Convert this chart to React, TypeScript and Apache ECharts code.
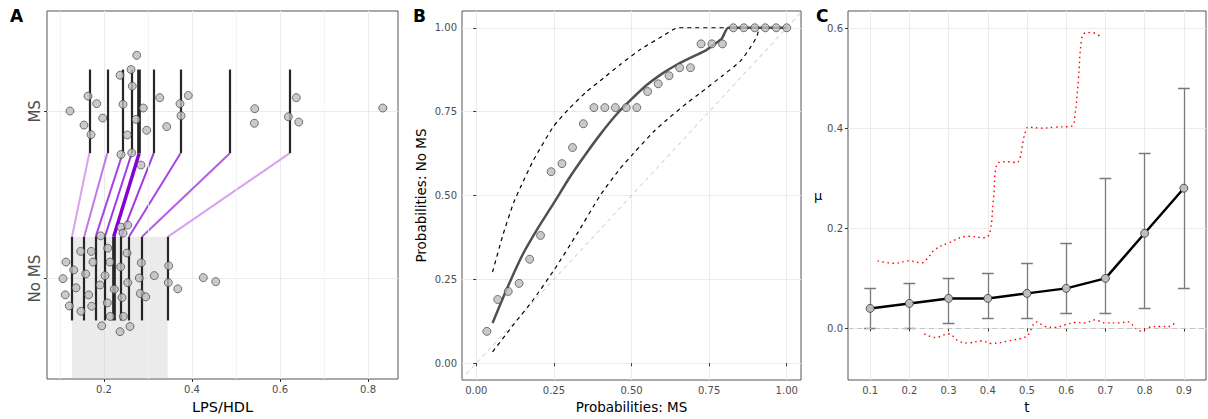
import React, { useEffect, useRef } from 'react';
import * as echarts from 'echarts';

// ---------- Panel A data ----------
const groups = ['No MS', 'MS'];
const msValues = [0.1227, 0.1636, 0.1834, 0.1545, 0.1705, 0.197, 0.2364, 0.2432, 0.253, 0.2386, 0.2614, 0.2643, 0.2743, 0.2893, 0.2727, 0.263, 0.297, 0.284, 0.3266, 0.3425, 0.3727, 0.375, 0.3916, 0.5425, 0.5416, 0.6189, 0.637, 0.6425, 0.8334];
const msJitter = [2.002, 2.091, 2.046, 1.918, 1.861, 1.96, 2.216, 2.042, 1.859, 1.742, 2.25, 2.151, 2.335, 2.02, 1.952, 1.752, 1.887, 1.679, 2.082, 1.909, 2.046, 1.974, 2.095, 2.016, 1.929, 1.968, 2.082, 1.936, 2.02];
const noMsValues = [0.1068, 0.1136, 0.1311, 0.112, 0.1211, 0.1364, 0.147, 0.1477, 0.1584, 0.1652, 0.1711, 0.175, 0.172, 0.1909, 0.1925, 0.1948, 0.2023, 0.2075, 0.2084, 0.2136, 0.2143, 0.2234, 0.2379, 0.2364, 0.2409, 0.2439, 0.2386, 0.2539, 0.2432, 0.2523, 0.2539, 0.2591, 0.2802, 0.2848, 0.2825, 0.2948, 0.3143, 0.347, 0.3461, 0.3675, 0.4257, 0.4539];
const noMsJitter = [1.0, 1.099, 1.052, 0.903, 0.837, 0.945, 1.163, 0.805, 1.028, 0.903, 1.163, 1.099, 0.835, 0.962, 1.256, 0.718, 1.018, 0.855, 1.182, 1.099, 0.774, 0.937, 1.07, 0.683, 0.887, 0.774, 1.308, 1.32, 1.272, 1.153, 0.976, 0.714, 1.004, 1.095, 0.911, 0.891, 1.018, 1.077, 0.976, 0.939, 1.006, 0.982];
const msDeciles = [0.1666, 0.2075, 0.2425, 0.263, 0.28, 0.313, 0.374, 0.486, 0.622];
const noMsDeciles = [0.1273, 0.155, 0.181, 0.202, 0.222, 0.2386, 0.2568, 0.2864, 0.3448];

// ---------- Panel B data ----------
const rocX = [0.034, 0.069, 0.103, 0.138, 0.172, 0.207, 0.241, 0.276, 0.31, 0.345, 0.379, 0.414, 0.448, 0.483, 0.517, 0.552, 0.586, 0.621, 0.655, 0.69, 0.724, 0.759, 0.793, 0.828, 0.862, 0.897, 0.931, 0.966, 1.0];
const rocY = [0.095, 0.19, 0.214, 0.238, 0.31, 0.381, 0.571, 0.595, 0.643, 0.714, 0.762, 0.762, 0.762, 0.762, 0.762, 0.81, 0.833, 0.857, 0.881, 0.881, 0.952, 0.952, 0.952, 1, 1, 1, 1, 1, 1];
const smoothX = [0.0525, 0.1, 0.15, 0.2, 0.25, 0.3, 0.35, 0.4, 0.45, 0.5, 0.55, 0.6, 0.65, 0.7, 0.737, 0.765, 0.791, 0.812, 1.0];
const smoothY = [0.12, 0.225, 0.325, 0.405, 0.478, 0.553, 0.62, 0.683, 0.74, 0.787, 0.83, 0.864, 0.892, 0.915, 0.931, 0.95, 0.968, 1.0, 1.0];
const upperX = [0.0525, 0.085, 0.12, 0.1416, 0.184, 0.249, 0.3, 0.356, 0.41, 0.463, 0.528, 0.6, 0.635, 0.65, 0.83];
const upperY = [0.272, 0.38, 0.478, 0.523, 0.605, 0.706, 0.76, 0.81, 0.85, 0.89, 0.935, 0.975, 0.995, 1.0, 1.0];
const lowerX = [0.0525, 0.12, 0.184, 0.252, 0.324, 0.399, 0.463, 0.506, 0.571, 0.614, 0.678, 0.721, 0.79, 0.85, 0.882, 0.903, 0.912];
const lowerY = [0.034, 0.115, 0.19, 0.28, 0.385, 0.5, 0.58, 0.625, 0.69, 0.726, 0.775, 0.805, 0.855, 0.9, 0.94, 0.973, 1.0];

// ---------- Panel C data ----------
const tValues = [0.1, 0.2, 0.3, 0.4, 0.5, 0.6, 0.7, 0.8, 0.9];
const muValues = [0.04, 0.05, 0.06, 0.06, 0.07, 0.08, 0.1, 0.19, 0.28];
const muLower = [0, 0, 0.01, 0.02, 0.02, 0.03, 0.03, 0.04, 0.08];
const muUpper = [0.08, 0.09, 0.1, 0.11, 0.13, 0.17, 0.3, 0.35, 0.48];
const bandUpperT = [0.119, 0.164, 0.198, 0.231, 0.244, 0.266, 0.3, 0.35, 0.393, 0.406, 0.414, 0.427, 0.452, 0.473, 0.495, 0.503, 0.537, 0.571, 0.614, 0.622, 0.631, 0.639, 0.648, 0.665, 0.689];
const bandUpperV = [0.135, 0.13, 0.135, 0.131, 0.138, 0.158, 0.171, 0.184, 0.181, 0.194, 0.255, 0.331, 0.333, 0.331, 0.39, 0.402, 0.4, 0.402, 0.404, 0.424, 0.497, 0.576, 0.59, 0.591, 0.582];
const bandLowerT = [0.238, 0.266, 0.3, 0.325, 0.35, 0.384, 0.41, 0.452, 0.499, 0.508, 0.524, 0.546, 0.571, 0.597, 0.622, 0.648, 0.673, 0.699, 0.733, 0.758, 0.775, 0.788, 0.809, 0.843, 0.864, 0.877];
const bandLowerV = [-0.011, -0.018, -0.011, -0.025, -0.029, -0.025, -0.03, -0.025, -0.016, -0.005, 0.013, 0.004, 0.002, 0.007, 0.012, 0.011, 0.017, 0.011, 0.011, 0.013, 0.002, -0.005, 0.002, 0.004, 0.004, 0.011];

// ---------- styles ----------
const FONT = 'DejaVu Sans';
const decileColors = ['#d9a2f1', '#c078ea', '#a844e2', '#a03ae0', '#8800d6', '#a03ae0', '#a844e2', '#b45de5', '#d9a2f1'];
const decileWidths = [2, 2, 2, 2, 3.5, 2, 2, 2, 2];
const pointStyle = { color: '#bdbdbd', borderColor: '#333', borderWidth: 0.8 };

const zip = (a: number[], b: number[]) => a.map((v, i) => [v, b[i]]);

const tickLabel = { fontFamily: FONT, fontSize: 10, color: '#4d4d4d', margin: 5 };
const nameStyle = { fontFamily: FONT, fontSize: 13.5, color: '#000' };
const splitLine = { show: true, lineStyle: { color: '#ebebeb', width: 1 } };
const axisTick = (vals: number[]) => ({ show: true, length: 3, lineStyle: { color: '#333' }, customValues: vals });

export default function App() {
  const ref = useRef<HTMLDivElement>(null);
  useEffect(() => {
    if (!ref.current) return;
    const chart = echarts.init(ref.current, null, { renderer: 'svg' });

    const xA = [0.2, 0.4, 0.6, 0.8];
    const xB = [0, 0.25, 0.5, 0.75, 1];
    const xC = tValues;
    const yC = [0, 0.2, 0.4, 0.6];

    const decileWidthsAll = decileWidths.concat(decileWidths);
    const decileSegs: any[] = [];
    msDeciles.forEach((d) => decileSegs.push({ coords: [[d, 1.75], [d, 2.25]] }));
    noMsDeciles.forEach((d) => decileSegs.push({ coords: [[d, 0.75], [d, 1.25]] }));
    decileSegs.forEach((s, i) => (s.lineStyle = { color: '#262626', width: decileWidthsAll[i] + 0.2, opacity: 1 }));

    const purple = msDeciles.map((d, i) => ({
      coords: [[d, 1.75], [noMsDeciles[i], 1.25]],
      lineStyle: { color: decileColors[i], width: decileWidths[i], opacity: 1 },
    }));

    const errSegs: any[] = [];
    tValues.forEach((t, i) => {
      errSegs.push({ coords: [[t, muLower[i]], [t, muUpper[i]]] });
      errSegs.push({ coords: [[t - 0.015, muLower[i]], [t + 0.015, muLower[i]]] });
      errSegs.push({ coords: [[t - 0.015, muUpper[i]], [t + 0.015, muUpper[i]]] });
    });

    const gridBase = { top: 11, height: 370, show: true, borderColor: '#555', borderWidth: 1, backgroundColor: '#fff' };

    const option: any = {
      animation: false,
      textStyle: { fontFamily: FONT },
      grid: [
        { ...gridBase, left: 47, width: 351 },
        { ...gridBase, left: 462, width: 339 },
        { ...gridBase, left: 848, width: 358 },
      ],
      xAxis: [
        {
          gridIndex: 0, type: 'value', min: 0.0705, max: 0.868,
          axisLine: { show: false }, axisTick: axisTick(xA), splitLine,
          axisLabel: { ...tickLabel, customValues: xA, formatter: (v: number) => v.toFixed(1) },
          name: 'LPS/HDL', nameLocation: 'middle', nameGap: 20, nameTextStyle: { ...nameStyle, fontSize: 14.5 },
        },
        {
          gridIndex: 1, type: 'value', min: -0.046, max: 1.046,
          axisLine: { show: false }, axisTick: axisTick(xB), splitLine,
          axisLabel: { ...tickLabel, customValues: xB, formatter: (v: number) => v.toFixed(2) },
          name: 'Probabilities: MS', nameLocation: 'middle', nameGap: 20, nameTextStyle: nameStyle,
        },
        {
          gridIndex: 2, type: 'value', min: 0.0435, max: 0.9565,
          axisLine: { show: false }, axisTick: axisTick(xC), splitLine,
          axisLabel: { ...tickLabel, customValues: xC, formatter: (v: number) => v.toFixed(1) },
          name: 't', nameLocation: 'middle', nameGap: 20, nameTextStyle: nameStyle,
        },
      ],
      yAxis: [
        {
          gridIndex: 0, type: 'value', min: 0.4, max: 2.6,
          axisLine: { show: false }, axisTick: axisTick([1, 2]), splitLine,
          axisLabel: { fontFamily: FONT, fontSize: 15, color: '#4d4d4d', margin: 5, rotate: 90, customValues: [1, 2], formatter: (v: number) => groups[Math.round(v) - 1] },
        },
        {
          gridIndex: 1, type: 'value', min: -0.05, max: 1.05,
          axisLine: { show: false }, axisTick: axisTick(xB), splitLine,
          axisLabel: { ...tickLabel, customValues: xB, formatter: (v: number) => v.toFixed(2) },
          name: 'Probabilities: No MS', nameLocation: 'middle', nameGap: 34, nameTextStyle: nameStyle,
        },
        {
          gridIndex: 2, type: 'value', min: -0.103, max: 0.634,
          axisLine: { show: false }, axisTick: axisTick(yC), splitLine,
          axisLabel: { ...tickLabel, customValues: yC, formatter: (v: number) => v.toFixed(1) },
          name: 'μ', nameLocation: 'middle', nameGap: 22, nameRotate: 0, nameTextStyle: { ...nameStyle, fontSize: 13 },
        },
      ],
      graphic: [
        { type: 'text', left: 10, top: 7, style: { text: 'A', font: `bold 17px ${FONT}`, fill: '#000' } },
        { type: 'text', left: 413, top: 7, style: { text: 'B', font: `bold 17px ${FONT}`, fill: '#000' } },
        { type: 'text', left: 816, top: 7, style: { text: 'C', font: `bold 17px ${FONT}`, fill: '#000' } },
      ],
      series: [
        // ---- Panel A ----
        {
          type: 'scatter', xAxisIndex: 0, yAxisIndex: 0, data: [], z: 1, silent: true,
          markArea: {
            silent: true,
            itemStyle: { color: 'rgba(190,190,190,0.3)' },
            data: [[{ coord: [noMsDeciles[0], 0.4] }, { coord: [noMsDeciles[noMsDeciles.length - 1], 1.25] }]],
          },
          markLine: {
            silent: true, symbol: ['none', 'none'], label: { show: false },
            lineStyle: { color: '#f2f2f2', width: 0.8, type: 'solid' },
            data: [{ xAxis: 0.1 }, { xAxis: 0.3 }, { xAxis: 0.5 }, { xAxis: 0.7 }],
          },
        },
        { type: 'lines', coordinateSystem: 'cartesian2d', xAxisIndex: 0, yAxisIndex: 0, z: 3, silent: true, lineStyle: { opacity: 1 }, data: purple },
        { type: 'lines', coordinateSystem: 'cartesian2d', xAxisIndex: 0, yAxisIndex: 0, z: 4, silent: true, lineStyle: { opacity: 1 }, data: decileSegs },
        { type: 'scatter', xAxisIndex: 0, yAxisIndex: 0, z: 5, symbolSize: 8, itemStyle: pointStyle, data: zip(msValues, msJitter) },
        { type: 'scatter', xAxisIndex: 0, yAxisIndex: 0, z: 5, symbolSize: 8, itemStyle: pointStyle, data: zip(noMsValues, noMsJitter) },
        // ---- Panel B ----
        { type: 'line', xAxisIndex: 1, yAxisIndex: 1, z: 2, symbol: 'none', lineStyle: { color: '#c4c4c4', width: 1, type: [4, 4] }, data: [[-0.05, -0.05], [1.05, 1.05]] },
        { type: 'line', xAxisIndex: 1, yAxisIndex: 1, z: 3, symbol: 'none', smooth: 0.2, lineStyle: { color: '#000', width: 1.2, type: [4, 4] }, data: zip(upperX, upperY) },
        { type: 'line', xAxisIndex: 1, yAxisIndex: 1, z: 3, symbol: 'none', smooth: 0.2, lineStyle: { color: '#000', width: 1.2, type: [4, 4] }, data: zip(lowerX, lowerY) },
        { type: 'line', xAxisIndex: 1, yAxisIndex: 1, z: 4, symbol: 'none', smooth: 0.2, lineStyle: { color: '#505050', width: 2.5 }, data: zip(smoothX, smoothY) },
        { type: 'scatter', xAxisIndex: 1, yAxisIndex: 1, z: 5, symbolSize: 8, itemStyle: pointStyle, data: zip(rocX, rocY) },
        // ---- Panel C ----
        {
          type: 'line', xAxisIndex: 2, yAxisIndex: 2, z: 2, symbol: 'none', smooth: 0.4,
          lineStyle: { color: '#ff0000', width: 1.4, type: [1.5, 3.5] }, data: zip(bandUpperT, bandUpperV),
          markLine: {
            silent: true, symbol: ['none', 'none'], label: { show: false },
            lineStyle: { color: '#c4c4c4', width: 1, type: [5, 4] },
            data: [{ yAxis: 0 }],
          },
        },
        { type: 'line', xAxisIndex: 2, yAxisIndex: 2, z: 2, symbol: 'none', smooth: 0.4, lineStyle: { color: '#ff0000', width: 1.4, type: [1.5, 3.5] }, data: zip(bandLowerT, bandLowerV) },
        { type: 'lines', coordinateSystem: 'cartesian2d', xAxisIndex: 2, yAxisIndex: 2, z: 3, silent: true, lineStyle: { color: '#7a7a7a', width: 1.3, opacity: 1 }, data: errSegs },
        {
          type: 'line', xAxisIndex: 2, yAxisIndex: 2, z: 4, symbol: 'circle', symbolSize: 8,
          itemStyle: pointStyle, lineStyle: { color: '#000', width: 2.5 }, data: zip(tValues, muValues),
        },
      ],
    };
    chart.setOption(option);
    return () => chart.dispose();
  }, []);

  return <div ref={ref} style={{ position: 'absolute', left: 0, top: 0, width: 1208, height: 419 }} />;
}
